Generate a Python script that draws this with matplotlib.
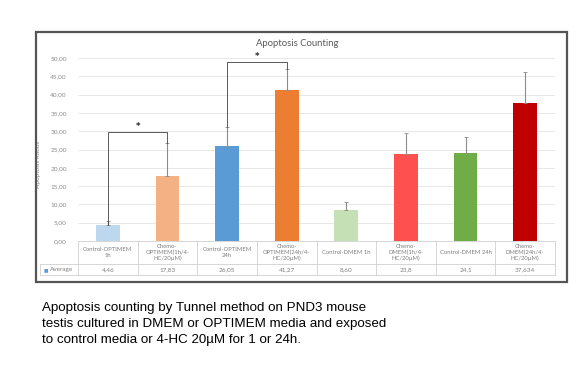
import matplotlib.pyplot as plt
from matplotlib.patches import Rectangle
from matplotlib.transforms import blended_transform_factory

# data
categories = ["Control-OPTIMEM\n1h", "Chemo-\nOPTIMEM(1h/4-\nHC/20µM)",
              "Control-OPTIMEM\n24h", "Chemo-\nOPTIMEM(24h/4-\nHC/20µM)",
              "Control-DMEM 1h", "Chemo-\nDMEM(1h/4-\nHC/20µM)",
              "Control-DMEM 24h", "Chemo-\nDMEM(24h/4-\nHC/20µM)"]
average = [4.46, 17.83, 26.05, 41.27, 8.60, 23.8, 24.1, 37.634]
average_labels = ["4,46", "17,83", "26,05", "41,27", "8,60", "23,8", "24,1", "37,634"]
error_up = [1.0, 9.0, 5.0, 5.8, 2.0, 5.7, 4.3, 8.6]
bar_colors = ["#bdd7ee", "#f4b183", "#5b9bd5", "#ed7d31",
              "#c5e0b4", "#ff5050", "#70ad47", "#c00000"]
yticks = [0, 5, 10, 15, 20, 25, 30, 35, 40, 45, 50]
# significance brackets: (left index, right index, height, left end, right end)
brackets = [(0, 1, 29.8, 4.46, 26.8), (2, 3, 48.9, 31.1, 47.0)]
caption_lines = ["Apoptosis counting by Tunnel method on PND3 mouse",
                 "testis cultured in DMEM or OPTIMEM media and exposed",
                 "to control media or 4-HC 20µM for 1 or 24h."]

fig = plt.figure(figsize=(5.77, 3.66), dpi=100)
fig.patch.set_facecolor("white")

# outer chart frame
fig.patches.append(Rectangle((36 / 577, 1 - 282 / 366), 531 / 577, 250 / 366,
                             transform=fig.transFigure, fill=False,
                             edgecolor="#555555", lw=1.6))

ax = fig.add_axes([78 / 577, 1 - 241 / 366, 477 / 577, 183 / 366])
n = len(categories)
x = list(range(n))
ax.bar(x, average, width=0.4, color=bar_colors, zorder=3)
ax.errorbar(x, average, yerr=[[0] * n, error_up], fmt="none",
            ecolor="#8c8c8c", elinewidth=0.8, capsize=1.5, capthick=0.6, zorder=4)

ax.set_xlim(-0.5, n - 0.5)
ax.set_ylim(0, 50)
ax.set_yticks(yticks)
ax.set_yticklabels([f"{v:.2f}".replace(".", ",") for v in yticks],
                   fontsize=4.6, color="#8c8c8c", family="Lato")
ax.tick_params(axis="y", length=0, pad=8)
ax.set_xticks([])
ax.grid(axis="y", color="#e4e4e4", lw=0.6, zorder=0)
for s in ax.spines.values():
    s.set_visible(False)
ax.set_ylabel("Apoptosis Ratios", fontsize=4.6, color="#8c8c8c", family="Lato", labelpad=4)
ax.yaxis.set_label_coords(-0.078, 0.42)

fig.text(297 / 577, 1 - 44 / 366, "Apoptosis Counting", ha="center", va="center",
         fontsize=6.8, color="#595959", family="Lato")

# significance brackets
for i, j, h, yl, yr in brackets:
    ax.plot([i, i, j, j], [yl, h, h, yr], color="#404040", lw=0.6, zorder=5, clip_on=False)
    ax.text((i + j) / 2, h + 0.3, "*", ha="center", va="bottom", fontsize=6,
            color="#222222", fontweight="bold")

# data table below the axis
tr = blended_transform_factory(ax.transData, ax.transAxes)
row1 = -23 / 183
row2 = -34 / 183
xl = -0.5 - 38 / 59.6
line_kw = dict(color="#d0d0d0", lw=0.6, clip_on=False)
ax.plot([-0.5, n - 0.5], [0, 0], transform=tr, **line_kw)
ax.plot([xl, n - 0.5], [row1, row1], transform=tr, **line_kw)
ax.plot([xl, n - 0.5], [row2, row2], transform=tr, **line_kw)
ax.plot([xl, xl], [row1, row2], transform=tr, **line_kw)
for k in range(n + 1):
    ax.plot([k - 0.5, k - 0.5], [0, row2], transform=tr, **line_kw)
for k in range(n):
    ax.text(k, row1 / 2, categories[k], transform=tr, ha="center", va="center",
            fontsize=4.2, color="#7f7f7f", family="Lato", linespacing=1.1)
    ax.text(k, (row1 + row2) / 2, average_labels[k], transform=tr, ha="center",
            va="center", fontsize=4.6, color="#7f7f7f", family="Lato")
ax.text(xl + 0.06, (row1 + row2) / 2, "■", transform=tr, ha="left", va="center",
        fontsize=3.5, color="#5b9bd5", family="DejaVu Sans")
ax.text(xl + 0.16, (row1 + row2) / 2, "Average", transform=tr, ha="left", va="center",
        fontsize=4.6, color="#7f7f7f", family="Lato")

# caption, one line at a time
for k, line in enumerate(caption_lines):
    fig.text(42 / 577, 1 - (311.5 + 15.5 * k) / 366, line, ha="left", va="baseline",
             fontsize=9.6, family="Liberation Sans", color="black")

fig.savefig("out.png", dpi=100)
